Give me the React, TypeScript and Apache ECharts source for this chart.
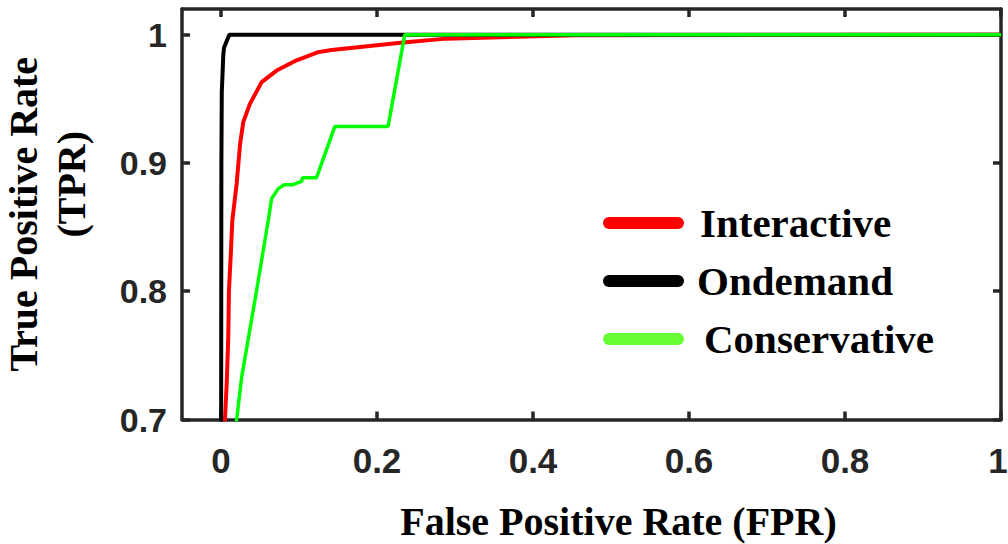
import React, { useEffect, useRef } from "react";
import * as echarts from "echarts";

// ROC curves: [FPR, TPR]
const interactive: number[][] = [
  [0.002, 0.6], [0.0051, 0.7], [0.0073, 0.728], [0.0093, 0.764], [0.0102, 0.8007],
  [0.0128, 0.832], [0.0145, 0.855], [0.0201, 0.884], [0.0245, 0.915], [0.0286, 0.932],
  [0.0371, 0.946], [0.0521, 0.963], [0.0713, 0.972], [0.0969, 0.98], [0.1246, 0.9864],
  [0.1417, 0.988], [0.2334, 0.9938], [0.289, 0.9969], [0.455, 0.9995], [1, 1],
];
const ondemand: number[][] = [
  [0, 0.6], [0.0005, 0.9], [0.001, 0.955], [0.003, 0.985], [0.004, 0.99], [0.0106, 1.0], [1, 1],
];
const conservative: number[][] = [
  [0.014, 0.67], [0.0201, 0.7], [0.0265, 0.733], [0.0457, 0.8007], [0.0606, 0.8553],
  [0.0649, 0.8722], [0.0735, 0.88], [0.081, 0.883], [0.092, 0.883], [0.1033, 0.8857],
  [0.1046, 0.8885], [0.1225, 0.8885], [0.146, 0.9285], [0.2142, 0.9285], [0.2356, 1.0], [1, 1],
];

const seriesNames = ["Interactive", "Ondemand", "Conservative"];
const seriesColors = ["#ff0000", "#000000", "#00ff00"];
const seriesWidths = [4, 4, 3.5];
const legendColors = ["#ff0000", "#000000", "#66ff33"];
const xTicks = [0, 0.2, 0.4, 0.6, 0.8, 1];
const yTicks = [0.7, 0.8, 0.9, 1];
const xRange = [-0.05, 1];
const yRange = [0.7, 1.02];

const AXIS_COLOR = "#262626";
const SANS = "'Liberation Sans', Arial, Helvetica, sans-serif";
const SERIF = "'Liberation Serif', 'Times New Roman', Times, serif";
const CAPSULE = "path://M6,0 H75 A6,6 0 0 1 75,12 H6 A6,6 0 0 1 6,0 Z";

export default function App() {
  const ref = useRef<HTMLDivElement>(null);
  useEffect(() => {
    if (!ref.current) return;
    const chart = echarts.init(ref.current, undefined, { renderer: "svg" });
    const axisLine = { show: true, onZero: false, lineStyle: { color: AXIS_COLOR, width: 3.5 } };
    const tick = (vals: number[]) => ({
      show: true, inside: true, length: 8, customValues: vals,
      lineStyle: { color: AXIS_COLOR, width: 3.5 },
    });
    const datas = [interactive, ondemand, conservative];
    const legendPad = [11, 8, 15];
    const labelFont = { fontFamily: SANS, fontWeight: "bold" as const, color: AXIS_COLOR };
    chart.setOption({
      animation: false,
      backgroundColor: "#ffffff",
      grid: {
        left: 182, right: 7, top: 9, bottom: 124.5,
        containLabel: false, outerBoundsMode: "none",
      },
      legend: {
        orient: "vertical",
        left: 603,
        top: 200,
        padding: 0,
        icon: CAPSULE,
        itemWidth: 81,
        itemHeight: 12,
        itemGap: 12,
        selectedMode: false,
        textStyle: {
          fontFamily: SERIF, fontWeight: "bold", fontSize: 41, color: "#000", lineHeight: 46,
        },
        data: seriesNames.map((n, i) => ({
          name: n,
          icon: CAPSULE,
          itemStyle: { color: legendColors[i], borderWidth: 0 },
          textStyle: { padding: [0, 0, 0, legendPad[i]] },
        })),
      },
      xAxis: [
        {
          type: "value", position: "bottom", min: xRange[0], max: xRange[1],
          axisLine, axisTick: tick(xTicks), splitLine: { show: false },
          axisLabel: {
            customValues: xTicks, margin: 23, fontSize: 35, ...labelFont,
            formatter: (v: number) => {
              const s = String(+v.toFixed(2));
              return v >= 1 ? `{edge|${s}}` : s;
            },
            rich: { edge: { ...labelFont, fontSize: 35, padding: [0, 6, 0, 0] } },
          },
          name: "False Positive Rate (FPR)", nameLocation: "middle", nameGap: 85,
          nameTextStyle: {
            fontFamily: SERIF, fontWeight: "bold", fontSize: 40, color: "#000",
            lineHeight: 34, padding: [0, 0, 0, 54],
          },
        },
        {
          type: "value", position: "top", min: xRange[0], max: xRange[1],
          axisLine, axisTick: tick(xTicks), splitLine: { show: false },
          axisLabel: { show: false },
        },
      ],
      yAxis: [
        {
          type: "value", position: "left", min: yRange[0], max: yRange[1],
          axisLine, axisTick: tick(yTicks), splitLine: { show: false },
          axisLabel: {
            customValues: yTicks, margin: 15, fontSize: 34, ...labelFont,
            formatter: (v: number) => String(+v.toFixed(2)),
          },
          name: "True Positive Rate\n      (TPR)", nameLocation: "middle", nameGap: 87,
          nameRotate: 90,
          nameTextStyle: {
            fontFamily: SERIF, fontWeight: "bold", fontSize: 40, color: "#000", lineHeight: 48,
          },
        },
        {
          type: "value", position: "right", min: yRange[0], max: yRange[1],
          axisLine, axisTick: tick(yTicks), splitLine: { show: false },
          axisLabel: { show: false },
        },
      ],
      series: seriesNames.map((n, i) => ({
        name: n,
        type: "line",
        xAxisIndex: 0,
        yAxisIndex: 0,
        data: datas[i],
        symbol: "none",
        showSymbol: false,
        clip: true,
        lineStyle: { color: seriesColors[i], width: seriesWidths[i] },
        itemStyle: { color: seriesColors[i] },
      })),
    });
    return () => chart.dispose();
  }, []);
  return (
    <div
      ref={ref}
      style={{ position: "fixed", left: 0, top: 0, width: 1008, height: 544, background: "#fff" }}
    />
  );
}
